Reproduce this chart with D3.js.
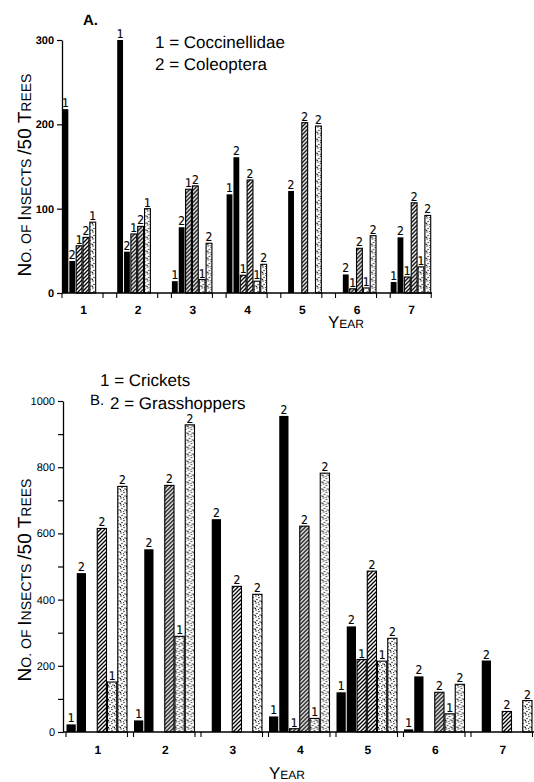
<!DOCTYPE html>
<html><head><meta charset="utf-8">
<script src="https://cdn.jsdelivr.net/npm/d3@7"></script>
<style>body{margin:0;background:#fff;-webkit-font-smoothing:antialiased}svg{display:block}text{white-space:pre;text-rendering:geometricPrecision}</style>
</head><body>
<script>
// ---------- DATA ----------
const years = ["1","2","3","4","5","6","7"];
const seriesKeys = ["black1","black2","hatch1","hatch2","stip1","stip2"];
const seriesLabels = ["1","2","1","2","1","2"];
const seriesFill = ["black","black","hatch","hatch","stip","stip"];

// Panel A: 1 = Coccinellidae, 2 = Coleoptera
const A_black1 = [218, 300, 14, 117, 0, 0, 13];
const A_black2 = [38, 49, 78, 161, 121, 22, 66];
const A_hatch1 = [56, 70, 123, 21, 0, 5, 19];
const A_hatch2 = [66, 79, 127, 134, 202, 53, 107];
const A_stip1  = [84, 100, 16, 14, 0, 6, 31];
const A_stip2  = [0, 0, 59, 34, 198, 68, 92];
const A_ticks = [0, 100, 200, 300];

// Panel B: 1 = Crickets, 2 = Grasshoppers
const B_black1 = [23, 35, 0, 47, 120, 8, 0];
const B_black2 = [480, 552, 643, 955, 319, 168, 216];
const B_hatch1 = [0, 0, 0, 10, 219, 0, 0];
const B_hatch2 = [615, 745, 440, 622, 486, 120, 62];
const B_stip1  = [151, 289, 0, 41, 214, 55, 0];
const B_stip2  = [742, 928, 416, 782, 283, 144, 95];
const B_ticks = [0, 100, 200, 300, 400, 500, 600, 700, 800, 900, 1000];
const B_tickLabels = [0, 200, 400, 600, 800, 1000];

const legendA = ["1 = Coccinellidae", "2 = Coleoptera"];
const legendB = ["1 = Crickets", "2 = Grasshoppers"];

// ---------- DRAW ----------
const W = 534, H = 782;
const svg = d3.select("body").append("svg").attr("width", W).attr("height", H);
const defs = svg.append("defs");

const hatch = defs.append("pattern").attr("id","hatch").attr("patternUnits","userSpaceOnUse")
  .attr("width",4).attr("height",4);
hatch.append("rect").attr("width",4).attr("height",4).attr("fill","#fff");
hatch.append("path").attr("d","M-1,1 l2,-2 M0,4 l4,-4 M3,5 l2,-2")
  .attr("stroke","#000").attr("stroke-width",1.3);

const stip = defs.append("pattern").attr("id","stip").attr("patternUnits","userSpaceOnUse")
  .attr("width",6).attr("height",7);
stip.append("rect").attr("width",6).attr("height",7).attr("fill","#fff");
[[1,1],[4,2.5],[2,4.5],[5,6],[0.5,6.3],[3.5,0.2]].forEach(p =>
  stip.append("circle").attr("cx",p[0]).attr("cy",p[1]).attr("r",0.65).attr("fill","#000"));

const fillOf = f => f === "black" ? "#000" : (f === "hatch" ? "url(#hatch)" : "url(#stip)");
const font = "'Liberation Sans', Arial, Helvetica, sans-serif";
const narrow = "'Liberation Sans Narrow', 'DejaVu Sans Condensed', 'Liberation Sans', sans-serif";

function smallCaps(sel, parts, big, small){
  parts.forEach(p => sel.append("tspan").attr("font-size", p[1] ? big : small).text(p[0]));
}

function panel(cfg){
  const g = svg.append("g");
  const x = d3.scaleBand().domain(years).range(cfg.xr).paddingInner(cfg.pad).paddingOuter(0);
  const xi = d3.scaleBand().domain(seriesKeys).range([0, x.bandwidth()]);
  const y = d3.scaleLinear().domain([0, cfg.max]).range(cfg.yr);

  const rows = years.map((yr, i) => ({yr, vals: seriesKeys.map((k, j) => ({k, j, v: cfg.data[j][i]}))}));
  const grp = g.selectAll("g.yr").data(rows).join("g").attr("transform", d => `translate(${x(d.yr)},0)`);
  const bars = grp.selectAll("g.b").data(d => d.vals.filter(v => v.v > 0)).join("g");
  bars.append("rect")
    .attr("x", d => xi(d.k) + 0.5).attr("width", xi.bandwidth() - 1)
    .attr("y", d => y(d.v)).attr("height", d => y(0) - y(d.v))
    .attr("fill", d => fillOf(seriesFill[d.j]))
    .attr("stroke", "#000").attr("stroke-width", d => seriesFill[d.j] === "black" ? 0 : 1.1);
  bars.append("text")
    .attr("x", d => xi(d.k) + xi.bandwidth()/2).attr("y", d => y(d.v) - 2)
    .attr("text-anchor","middle").attr("font-family", narrow).attr("font-size", cfg.lblSize)
    .attr("fill","#000").attr("stroke","#000").attr("stroke-width",0.15)
    .text(d => seriesLabels[d.j]);

  // y axis
  const ya = d3.axisLeft(y).tickValues(cfg.ticks).tickSize(5).tickSizeOuter(0)
    .tickFormat(v => cfg.tickLabels.includes(v) ? v : "");
  const yg = g.append("g").attr("transform", `translate(${cfg.axisX},0)`).call(ya);
  yg.select(".domain").attr("stroke-width",1.3);
  yg.selectAll("line").attr("stroke-width",1.2);
  yg.selectAll("text").attr("font-family", font).attr("font-size", cfg.tickFont)
    .attr("font-weight", cfg.tickBold ? "bold" : "normal").attr("fill","#000");

  // x axis baseline and ticks
  g.append("line").attr("x1", cfg.axisX).attr("x2", cfg.xEnd).attr("y1", y(0)).attr("y2", y(0))
    .attr("stroke","#000").attr("stroke-width",1.3);
  const tk = [];
  years.forEach(yr => { tk.push(x(yr)); tk.push(x(yr) + x.bandwidth()); });
  g.selectAll("line.tk").data(tk).join("line")
    .attr("x1", d => d).attr("x2", d => d).attr("y1", y(0)).attr("y2", y(0) + 5)
    .attr("stroke","#000").attr("stroke-width",1.1);
  g.selectAll("text.yr").data(years).join("text")
    .attr("x", d => x(d) + x.bandwidth()/2 + cfg.yrShift).attr("y", cfg.yrY)
    .attr("text-anchor","middle").attr("font-family", font).attr("font-weight","bold")
    .attr("font-size", 12).text(d => d);

  // axis titles
  const xt = g.append("text").attr("x", cfg.xtX).attr("y", cfg.xtY).attr("text-anchor","middle")
    .attr("font-family", font);
  smallCaps(xt, [["Y",1],["EAR",0]], 17, 12);
  const yt = g.append("text").attr("transform", `translate(${cfg.ytX},${cfg.ytY}) rotate(-90)`)
    .attr("text-anchor","middle").attr("font-family", font);
  smallCaps(yt, [["N",1],["O. OF ",0],["I",1],["NSECTS ",0],["/50 T",1],["REES",0]], 19, 14);

  // legend
  cfg.legend.forEach((t, i) => g.append("text").attr("x", cfg.legX[i]).attr("y", cfg.legY[i])
    .attr("font-family", font).attr("font-size", cfg.legSize).text(t));
  g.append("text").attr("x", cfg.tagX).attr("y", cfg.tagY).attr("font-family", font)
    .attr("font-size", 15).attr("font-weight", cfg.tagBold ? "bold" : "normal").text(cfg.tag);
}

panel({
  data: [A_black1, A_black2, A_hatch1, A_hatch2, A_stip1, A_stip2],
  max: 300, yr: [293, 40], xr: [62, 62 + 54.7*6.75], pad: 0.25,
  ticks: A_ticks, tickLabels: A_ticks, tickFont: 11, tickBold: true,
  axisX: 62, xEnd: 432, yrY: 314, yrShift: 1, lblSize: 12,
  xtX: 346, xtY: 328, ytX: 31, ytY: 175,
  legend: legendA, legX: [155, 155], legY: [48, 70], legSize: 17,
  tag: "A.", tagX: 83, tagY: 25, tagBold: true
});

panel({
  data: [B_black1, B_black2, B_hatch1, B_hatch2, B_stip1, B_stip2],
  max: 1000, yr: [732, 401], xr: [66, 66 + 67.5*6.911], pad: 0.089,
  ticks: B_ticks, tickLabels: B_tickLabels, tickFont: 11, tickBold: false,
  axisX: 63, xEnd: 534, yrY: 754, yrShift: 1, lblSize: 12,
  xtX: 287, xtY: 779, ytX: 31, ytY: 580,
  legend: legendB, legX: [100, 110], legY: [386, 409], legSize: 17,
  tag: "B.", tagX: 90, tagY: 405, tagBold: false
});
</script>
</body></html>
